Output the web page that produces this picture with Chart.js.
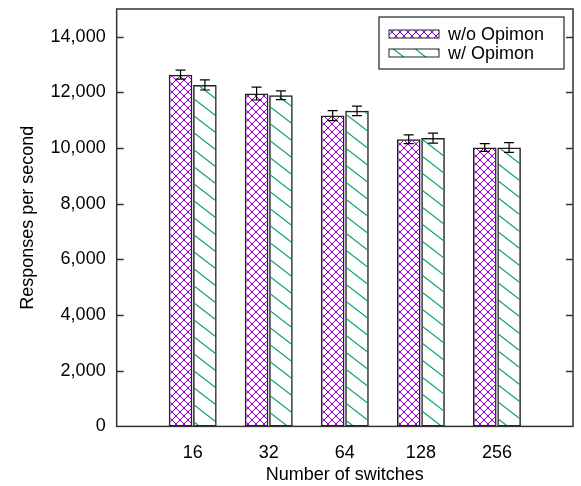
<!DOCTYPE html>
<html>
<head>
<meta charset="utf-8">
<script src="https://cdn.jsdelivr.net/npm/chart.js@4.4.0/dist/chart.umd.min.js"></script>
<style>
  html, body { margin: 0; padding: 0; background: #fff; }
</style>
</head>
<body>
<canvas id="chart" width="581" height="486"></canvas>
<script>
const switchCounts = ['16', '32', '64', '128', '256'];
const withoutOpimon = [12640, 11960, 11170, 10320, 10020];
const withoutOpimonErr = [160, 230, 180, 160, 140];
const withOpimon = [12270, 11900, 11340, 10360, 10020];
const withOpimonErr = [180, 160, 170, 180, 175];
const yTicks = [0, 2000, 4000, 6000, 8000, 10000, 12000, 14000];

const FONT = "'Liberation Sans', Arial, sans-serif";

// hatch fills like gnuplot's fill patterns
function crossHatch() {
  const c = document.createElement('canvas');
  c.width = 8; c.height = 8;
  const g = c.getContext('2d');
  g.strokeStyle = '#9400d3';
  g.lineWidth = 1;
  for (const dx of [-8, 0, 8]) {
    g.beginPath(); g.moveTo(dx, 0); g.lineTo(dx + 8, 8); g.stroke();
    g.beginPath(); g.moveTo(dx + 8, 0); g.lineTo(dx, 8); g.stroke();
  }
  g.fillStyle = '#9400d3';
  for (const [x, y] of [[0, 0], [8, 0], [0, 8], [8, 8], [4, 4]]) {
    g.beginPath(); g.arc(x, y, 1.2, 0, Math.PI * 2); g.fill();
  }
  return g.createPattern(c, 'repeat');
}

function slashHatch() {
  const w = 22, h = 17;
  const c = document.createElement('canvas');
  c.width = w; c.height = h;
  const g = c.getContext('2d');
  g.strokeStyle = '#009e73';
  g.lineWidth = 1.1;
  for (const [dx, dy] of [[0, 0], [-w, 0], [w, 0], [0, -h], [0, h]]) {
    g.beginPath(); g.moveTo(dx, dy); g.lineTo(dx + w, dy + h); g.stroke();
  }
  return g.createPattern(c, 'repeat');
}

const purpleFill = crossHatch();
const greenFill = slashHatch();

// category axis padded with a blank slot on each side (gnuplot xrange -1:5)
const labels = ['', ...switchCounts, ''];
const pad = arr => [null, ...arr, null];

const errors = [withoutOpimonErr, withOpimonErr];

const extras = {
  id: 'extras',
  afterDatasetsDraw(chart) {
    const ctx = chart.ctx;
    const y = chart.scales.y;
    ctx.save();
    ctx.strokeStyle = '#000';
    ctx.lineWidth = 1.2;
    chart.data.datasets.forEach((ds, di) => {
      const meta = chart.getDatasetMeta(di);
      meta.data.forEach((bar, i) => {
        const v = ds.data[i];
        if (v == null) return;
        const e = errors[di][i - 1];
        const top = y.getPixelForValue(v + e);
        const bot = y.getPixelForValue(v - e);
        ctx.beginPath();
        ctx.moveTo(bar.x, top); ctx.lineTo(bar.x, bot);
        ctx.moveTo(bar.x - 5, top); ctx.lineTo(bar.x + 5, top);
        ctx.moveTo(bar.x - 5, bot); ctx.lineTo(bar.x + 5, bot);
        ctx.stroke();
      });
    });
    ctx.restore();
  },
  afterDraw(chart) {
    const ctx = chart.ctx;
    const a = chart.chartArea;
    const y = chart.scales.y;
    ctx.save();
    // inward ticks on both sides
    ctx.strokeStyle = '#333';
    ctx.lineWidth = 1.5;
    yTicks.forEach(t => {
      if (t === 0) return;
      const py = Math.round(y.getPixelForValue(t)) + 0.5;
      ctx.beginPath();
      ctx.moveTo(a.left, py); ctx.lineTo(a.left + 7, py);
      ctx.moveTo(a.right, py); ctx.lineTo(a.right - 7, py);
      ctx.stroke();
    });
    // frame
    ctx.strokeRect(a.left, a.top, a.right - a.left, a.bottom - a.top);

    // key box
    const w = 185, h = 52;
    const lx = a.right - 9 - w, ly = a.top + 8;
    ctx.fillStyle = '#fff';
    ctx.fillRect(lx, ly, w, h);
    ctx.strokeStyle = '#222';
    ctx.lineWidth = 1.2;
    ctx.strokeRect(lx, ly, w, h);
    ctx.font = '18px ' + FONT;
    ctx.textBaseline = 'middle';
    chart.data.datasets.forEach((ds, di) => {
      const cy = ly + 17 + di * 19;
      ctx.fillStyle = ds.backgroundColor;
      ctx.fillRect(lx + 10, cy - 4, 50, 8);
      ctx.strokeStyle = '#222';
      ctx.lineWidth = 1;
      ctx.strokeRect(lx + 10, cy - 4, 50, 8);
      ctx.fillStyle = '#000';
      ctx.fillText(ds.label, lx + 69, cy + 1);
    });
    ctx.restore();
  }
};

new Chart(document.getElementById('chart'), {
  type: 'bar',
  data: {
    labels,
    datasets: [
      {
        label: 'w/o Opimon',
        data: pad(withoutOpimon),
        backgroundColor: purpleFill,
        borderColor: '#222',
        borderWidth: 1.5,
        borderSkipped: false
      },
      {
        label: 'w/ Opimon',
        data: pad(withOpimon),
        backgroundColor: greenFill,
        borderColor: '#222',
        borderWidth: 1.5,
        borderSkipped: false
      }
    ]
  },
  options: {
    responsive: false,
    animation: false,
    categoryPercentage: 0.64,
    barPercentage: 0.97,
    layout: { padding: { left: 17, top: 9, right: 8, bottom: 0 } },
    plugins: {
      legend: { display: false },
      tooltip: { enabled: false }
    },
    scales: {
      x: {
        offset: false,
        grid: { display: false, drawTicks: true, tickLength: 18, offset: false },
        border: { display: false },
        ticks: { color: '#000', font: { family: FONT, size: 18, lineHeight: 1 }, padding: 0, maxRotation: 0, autoSkip: false },
        title: { display: true, text: 'Number of switches', color: '#000', font: { family: FONT, size: 18 }, padding: { top: 2, bottom: 0 } }
      },
      y: {
        min: 0,
        max: 15000,
        grid: { display: false, drawTicks: true, tickLength: 11 },
        border: { display: false },
        afterBuildTicks: scale => { scale.ticks = yTicks.map(value => ({ value })); },
        ticks: {
          color: '#000',
          padding: 0,
          font: { family: FONT, size: 18, lineHeight: 1 },
          callback: v => v.toLocaleString('en-US')
        },
        title: { display: true, text: 'Responses per second', color: '#000', font: { family: FONT, size: 18 }, padding: { top: 0, bottom: 12 } }
      }
    }
  },
  plugins: [extras]
});
</script>
</body>
</html>
